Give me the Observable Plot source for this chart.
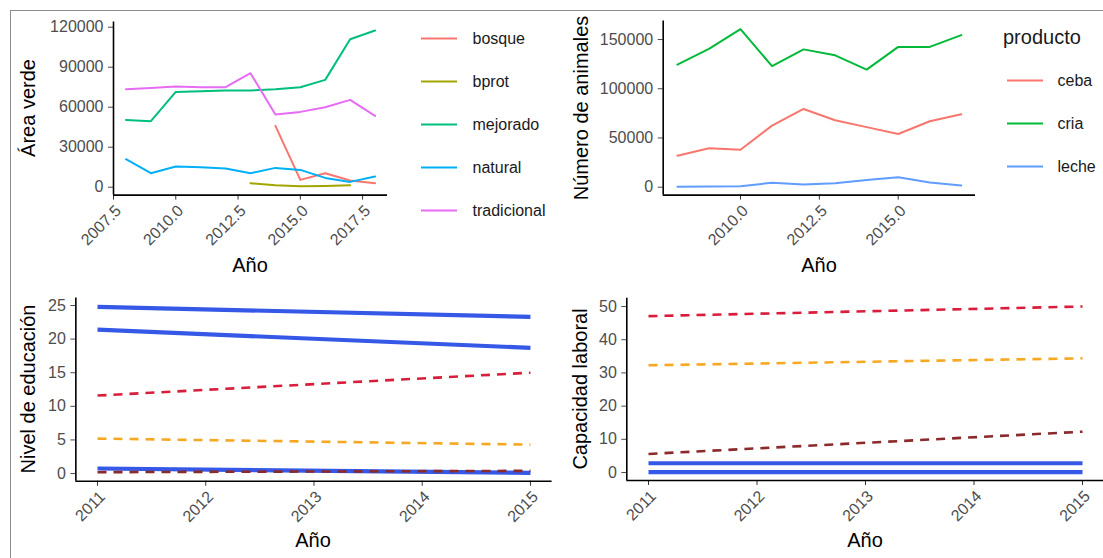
<!DOCTYPE html>
<html><head><meta charset="utf-8">
<script src="https://cdn.jsdelivr.net/npm/d3@7"></script>
<script src="https://cdn.jsdelivr.net/npm/@observablehq/plot@0.6"></script>
<style>
body{margin:0;background:#fff;}
#root{position:relative;width:1103px;height:558px;overflow:hidden;background:#fff;font-family:"Liberation Sans",Arial,sans-serif;}
.marco{position:absolute;left:10px;top:10px;width:1100px;height:560px;border:1.5px solid #8c8c8c;box-sizing:border-box;}
.panel{position:absolute;}
.titulo{position:absolute;font-size:20px;line-height:20px;color:#000;white-space:nowrap;}
</style></head><body><div id="root"><div class="marco"></div></div>
<script>
// ---------- Datos: Área verde ----------
const aniosVerde = [2008, 2009, 2010, 2011, 2012, 2013, 2014, 2015, 2016, 2017, 2018];
const bosque      = [null, null, null, null, null, null, 46000, 5500, 10500, 5000, 3000];
const bprot       = [null, null, null, null, null, 3000, 1500, 800, 1000, 1500, null];
const mejorado    = [50500, 49500, 71500, 72000, 72500, 72500, 73500, 75000, 80500, 111000, 117500];
const natural     = [21000, 10500, 15500, 15000, 14000, 10500, 14500, 13000, 7000, 4000, 8000];
const tradicional = [73500, 74500, 75500, 75000, 75000, 85500, 54500, 56500, 60000, 65500, 53500];
const tiposVerde = ["bosque", "bprot", "mejorado", "natural", "tradicional"];
const coloresVerde = ["#F8766D", "#A3A500", "#00BF7D", "#00B0F6", "#E76BF3"];
const ticksXVerde = [2007.5, 2010, 2012.5, 2015, 2017.5];
const ticksYVerde = [0, 30000, 60000, 90000, 120000];

// ---------- Datos: Número de animales ----------
const aniosAnim = [2008, 2009, 2010, 2011, 2012, 2013, 2014, 2015, 2016, 2017];
const ceba  = [32000, 39500, 38000, 62500, 79500, 68000, 61000, 54000, 67000, 74000];
const cria  = [124500, 140500, 160500, 123000, 140000, 134000, 119500, 142500, 142500, 154500];
const leche = [500, 800, 1000, 4500, 2700, 4000, 7300, 10200, 4700, 1700];
const productos = ["ceba", "cria", "leche"];
const coloresProd = ["#F8766D", "#00BA38", "#619CFF"];
const ticksXAnim = [2010, 2012.5, 2015];
const ticksYAnim = [0, 50000, 100000, 150000];

// ---------- Datos: tendencias 2011-2015 ----------
const aniosTend = [2011, 2015];
const educAzul1 = [24.8, 23.3];
const educAzul2 = [21.4, 18.7];
const educAzul3 = [0.75, 0.1];
const educRojo = [11.6, 15.0];
const educNaranja = [5.2, 4.3];
const educMarron = [0.2, 0.4];
const capAzul1 = [2.8, 2.8];
const capAzul2 = [0.1, 0.1];
const capRojo = [47.1, 50.0];
const capNaranja = [32.3, 34.4];
const capMarron = [5.6, 12.3];
const ticksXTend = [2011, 2012, 2013, 2014, 2015];
const ticksYEduc = [0, 5, 10, 15, 20, 25];
const ticksYCap = [0, 10, 20, 30, 40, 50];

const root = document.getElementById("root");
const fuente = "'Liberation Sans', Arial, sans-serif";
const estiloPlot = {fontFamily: fuente, fontSize: "16px", color: "#4d4d4d", background: "transparent", overflow: "visible"};

function colocar(el, left, top) {
  el.classList.add("panel");
  el.style.left = left + "px";
  el.style.top = top + "px";
  root.appendChild(el);
}
function titulo(texto, cx, cy, rot) {
  const d = document.createElement("div");
  d.className = "titulo";
  d.textContent = texto;
  d.style.left = cx + "px";
  d.style.top = cy + "px";
  d.style.transform = "translate(-50%,-50%)" + (rot ? " rotate(" + rot + "deg)" : "");
  root.appendChild(d);
}
function tabla(anios, series, nombres) {
  return series.flatMap((vals, i) => vals.map((v, j) => ({anio: anios[j], valor: v, tipo: nombres[i]}))).filter(d => d.valor != null);
}
const ejes = (dx, dy, tx, fx, ty, fy) => [
  Plot.axisX({ticks: tx, tickSize: 5, fill: "none", stroke: "#333", label: null}),
  Plot.axisX({ticks: tx, tickFormat: fx, tickRotate: -45, tickSize: 0, tickPadding: 10, dx: 5, dy: 3, label: null}),
  Plot.axisY({ticks: ty, tickFormat: fy, tickSize: 5, tickPadding: 5, label: null}),
  Plot.ruleX([dx[0]], {stroke: "#000", strokeWidth: 1.6}),
  Plot.ruleY([dy[0]], {stroke: "#000", strokeWidth: 1.6})
];

// ---------- Panel 1: Área verde ----------
const domXV = [2007.5, 2018.5], domYV = [-5900, 123900];
const p1 = Plot.plot({
  width: 395, height: 270,
  marginLeft: 103, marginRight: 18, marginTop: 11.5, marginBottom: 85.4,
  style: estiloPlot,
  x: {domain: domXV},
  y: {domain: domYV},
  color: {domain: tiposVerde, range: coloresVerde},
  marks: [
    ...ejes(domXV, domYV, ticksXVerde, d3.format(".1f"), ticksYVerde, d3.format("d")),
    Plot.line(tabla(aniosVerde, [bosque, bprot, mejorado, natural, tradicional], tiposVerde),
      {x: "anio", y: "valor", stroke: "tipo", z: "tipo", strokeWidth: 2})
  ]
});
colocar(p1, 10, 10);

const l1 = Plot.plot({
  width: 160, height: 230, margin: 0,
  style: {fontFamily: fuente, background: "transparent", overflow: "visible"},
  x: {domain: [0, 160], range: [0, 160], axis: null},
  y: {type: "point", domain: tiposVerde, range: [27, 201], padding: 0, axis: null},
  color: {domain: tiposVerde, range: coloresVerde},
  marks: [
    Plot.ruleY(tiposVerde, {y: d => d, x1: 11, x2: 47, stroke: d => d, strokeWidth: 2}),
    Plot.text(tiposVerde, {y: d => d, x: 62, text: d => d, textAnchor: "start", fill: "#1a1a1a", fontSize: 16})
  ]
});
colocar(l1, 410, 10);

// ---------- Panel 2: Número de animales ----------
const domXA = [2007.55, 2017.45], domYA = [-8040, 168840];
const p2 = Plot.plot({
  width: 400, height: 270,
  marginLeft: 72.7, marginRight: 15, marginTop: 10.5, marginBottom: 85.4,
  style: estiloPlot,
  x: {domain: domXA},
  y: {domain: domYA},
  color: {domain: productos, range: coloresProd},
  marks: [
    ...ejes(domXA, domYA, ticksXAnim, d3.format(".1f"), ticksYAnim, d3.format("d")),
    Plot.line(tabla(aniosAnim, [ceba, cria, leche], productos),
      {x: "anio", y: "valor", stroke: "tipo", z: "tipo", strokeWidth: 2})
  ]
});
colocar(p2, 590, 10);

const l2 = Plot.plot({
  width: 108, height: 200, margin: 0,
  style: {fontFamily: fuente, background: "transparent", overflow: "visible"},
  x: {domain: [0, 108], range: [0, 108], axis: null},
  y: {type: "point", domain: productos, range: [69, 156], padding: 0, axis: null},
  color: {domain: productos, range: coloresProd},
  marks: [
    Plot.ruleY(productos, {y: d => d, x1: 12, x2: 48, stroke: d => d, strokeWidth: 2}),
    Plot.text(productos, {y: d => d, x: 62, text: d => d, textAnchor: "start", fill: "#1a1a1a", fontSize: 16})
  ]
});
colocar(l2, 995, 10);
const tl = document.createElement("div");
tl.className = "titulo";
tl.textContent = "producto";
tl.style.left = "1003px"; tl.style.top = "27px";
tl.style.color = "#1a1a1a";
root.appendChild(tl);

// ---------- Paneles 3 y 4: tendencias ----------
const azul = {stroke: "#3558E6", strokeWidth: 4.2, strokeLinecap: "butt"};
const dash = {strokeWidth: 2.6, strokeDasharray: "9,7", strokeLinecap: "butt"};
const rojo = {...dash, stroke: "#D81E3A"};
const naranja = {...dash, stroke: "#F7A823"};
const marron = {...dash, stroke: "#8B2A2A"};
function linea(vals, estilo) {
  return Plot.line(aniosTend.map((a, i) => ({anio: a, valor: vals[i]})), {x: "anio", y: "valor", ...estilo});
}

const domXT = [2010.8, 2015.2];
const domYE = [-1.14, 26.1];
const p3 = Plot.plot({
  width: 545, height: 273,
  marginLeft: 65.35, marginRight: 3.4, marginTop: 12.6, marginBottom: 77.3,
  style: estiloPlot,
  x: {domain: domXT},
  y: {domain: domYE},
  marks: [
    ...ejes(domXT, domYE, ticksXTend, d3.format("d"), ticksYEduc, d3.format("d")),
    linea(educAzul1, azul), linea(educAzul2, azul), linea(educAzul3, azul),
    linea(educRojo, rojo), linea(educNaranja, naranja), linea(educMarron, marron)
  ]
});
colocar(p3, 10, 285);

const domYC = [-2.4, 52.5];
const p4 = Plot.plot({
  width: 524, height: 273,
  marginLeft: 46.3, marginRight: 0.3, marginTop: 12.7, marginBottom: 78,
  style: estiloPlot,
  x: {domain: domXT},
  y: {domain: domYC},
  marks: [
    ...ejes(domXT, domYC, ticksXTend, d3.format("d"), ticksYCap, d3.format("d")),
    linea(capAzul1, azul), linea(capAzul2, azul),
    linea(capRojo, rojo), linea(capNaranja, naranja), linea(capMarron, marron)
  ]
});
colocar(p4, 580, 285);

// ---------- Títulos de ejes ----------
titulo("Año", 250, 265);
titulo("Año", 819, 265);
titulo("Año", 313, 540);
titulo("Año", 865, 540);
titulo("Área verde", 28, 108, -90);
titulo("Número de animales", 581, 108, -90);
titulo("Nivel de educación", 28, 389, -90);
titulo("Capacidad laboral", 580, 389, -90);
</script></body></html>
